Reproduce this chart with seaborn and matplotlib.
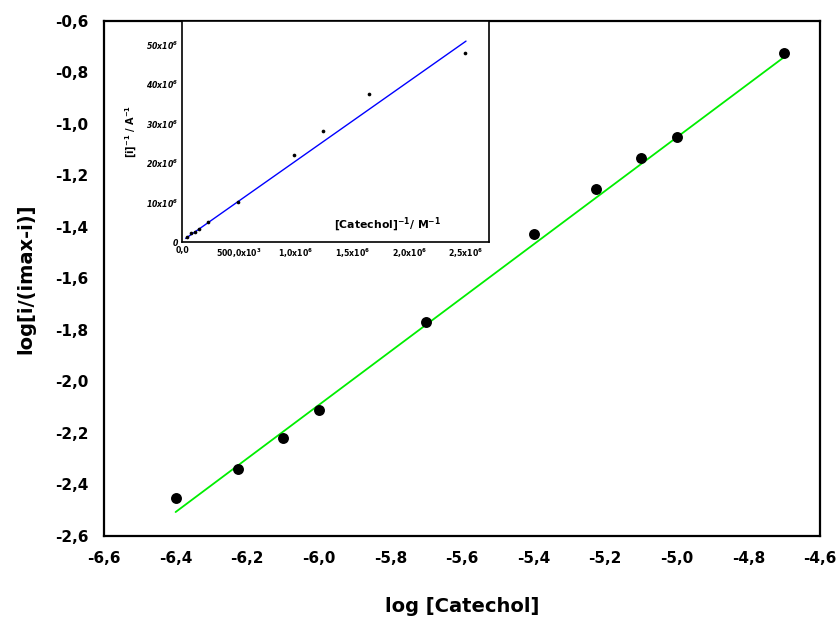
import matplotlib
matplotlib.use("Agg")
import matplotlib.pyplot as plt
import seaborn as sns
import numpy as np
import pandas as pd

# ---- main data ----
log_cat = [-6.40, -6.225, -6.10, -6.00, -5.70, -5.40, -5.227, -5.10, -5.00, -4.70]
log_ratio = [-2.452, -2.34, -2.219, -2.111, -1.769, -1.427, -1.252, -1.132, -1.05, -0.724]
fit_x = [-6.40, -4.70]
fit_y = [-2.507, -0.74]

x_ticks = [-6.6, -6.4, -6.2, -6.0, -5.8, -5.6, -5.4, -5.2, -5.0, -4.8, -4.6]
x_ticklabels = ["-6,6", "-6,4", "-6,2", "-6,0", "-5,8", "-5,6", "-5,4", "-5,2", "-5,0", "-4,8", "-4,6"]
y_ticks = [-2.6, -2.4, -2.2, -2.0, -1.8, -1.6, -1.4, -1.2, -1.0, -0.8, -0.6]
y_ticklabels = ["-2,6", "-2,4", "-2,2", "-2,0", "-1,8", "-1,6", "-1,4", "-1,2", "-1,0", "-0,8", "-0,6"]

# ---- inset data ----
inv_cat = [0.04e6, 0.08e6, 0.11e6, 0.15e6, 0.23e6, 0.49e6, 0.99e6, 1.24e6, 1.65e6, 2.49e6]
inv_i = [1.24e6, 2.25e6, 2.5e6, 3.4e6, 4.95e6, 10.25e6, 22.1e6, 28.2e6, 37.4e6, 48.0e6]
ifit_x = [0.032e6, 2.50e6]
ifit_y = [0.9e6, 50.9e6]

ix_ticks = [0, 0.5e6, 1.0e6, 1.5e6, 2.0e6, 2.5e6]
ix_ticklabels = ["0,0", "500,0x10$^{3}$", "1,0x10$^{6}$", "1,5x10$^{6}$", "2,0x10$^{6}$", "2,5x10$^{6}$"]
iy_ticks = [0, 10e6, 20e6, 30e6, 40e6, 50e6]
iy_ticklabels = ["0", "10x10$^{6}$", "20x10$^{6}$", "30x10$^{6}$", "40x10$^{6}$", "50x10$^{6}$"]

sns.set_style("white")
plt.rcParams["font.family"] = ["DejaVu Sans"]
plt.rcParams["mathtext.default"] = "regular"
plt.rcParams["text.color"] = "black"
plt.rcParams["axes.labelcolor"] = "black"
plt.rcParams["xtick.color"] = "black"
plt.rcParams["ytick.color"] = "black"

fig = plt.figure(figsize=(8.38, 6.21), dpi=100)
ax = fig.add_axes([0.1241, 0.1369, 0.9785 - 0.1241, 0.9662 - 0.1369])

main_df = pd.DataFrame({"x": log_cat, "y": log_ratio})
fit_df = pd.DataFrame({"x": fit_x, "y": fit_y})
sns.lineplot(data=fit_df, x="x", y="y", ax=ax, color="#00ee00", linewidth=1.3, zorder=2)
sns.scatterplot(data=main_df, x="x", y="y", ax=ax, color="black", s=62, edgecolor="black",
                linewidth=0, zorder=3)

ax.set_xlim(-6.6, -4.6)
ax.set_ylim(-2.6, -0.6)
ax.set_xticks(x_ticks)
ax.set_xticklabels(x_ticklabels)
ax.set_yticks(y_ticks)
ax.set_yticklabels(y_ticklabels)
for lab in ax.get_xticklabels() + ax.get_yticklabels():
    lab.set_fontweight("bold")
    lab.set_fontsize(11)
    lab.set_color("black")
ax.tick_params(direction="in", length=7, width=1.5, colors="black", pad=11)
for sp in ax.spines.values():
    sp.set_visible(True)
    sp.set_linewidth(1.6)
    sp.set_color("black")
ax.set_xlabel("log [Catechol]", fontsize=14, fontweight="bold", labelpad=22, color="black")
ax.set_ylabel("log[i/(imax-i)]", fontsize=14, fontweight="bold", labelpad=14, color="black")

# ---- inset ----
ins = fig.add_axes([0.2172, 0.6103, 0.366, 0.3559])
in_df = pd.DataFrame({"x": inv_cat, "y": inv_i})
ifit_df = pd.DataFrame({"x": ifit_x, "y": ifit_y})
sns.lineplot(data=ifit_df, x="x", y="y", ax=ins, color="#0000ff", linewidth=1.0, zorder=2)
sns.scatterplot(data=in_df, x="x", y="y", ax=ins, color="black", s=7, linewidth=0, zorder=3)
ins.set_xlim(0, 2.7e6)
ins.set_ylim(0, 56e6)
ins.set_xticks(ix_ticks)
ins.set_xticklabels(ix_ticklabels)
ins.set_yticks(iy_ticks)
ins.set_yticklabels(iy_ticklabels)
for lab in ins.get_xticklabels():
    lab.set_fontweight("bold")
    lab.set_fontsize(5.6)
    lab.set_color("black")
for lab in ins.get_yticklabels():
    lab.set_fontweight("bold")
    lab.set_fontstyle("italic")
    lab.set_fontsize(5.6)
    lab.set_color("black")
ins.tick_params(direction="in", length=4, width=1.0, colors="black", pad=3)
for sp in ins.spines.values():
    sp.set_visible(True)
    sp.set_linewidth(1.2)
    sp.set_color("black")
ins.set_xlabel("")
ins.set_ylabel("[i]$^{-1}$ / A$^{-1}$", fontsize=7, fontweight="bold", labelpad=5, color="black")
ins.text(1.34e6, 4.2e6, "[Catechol]$^{-1}$/ M$^{-1}$", fontsize=7.8, fontweight="bold",
         ha="left", va="center", color="black")

fig.savefig("out.png", dpi=100)
